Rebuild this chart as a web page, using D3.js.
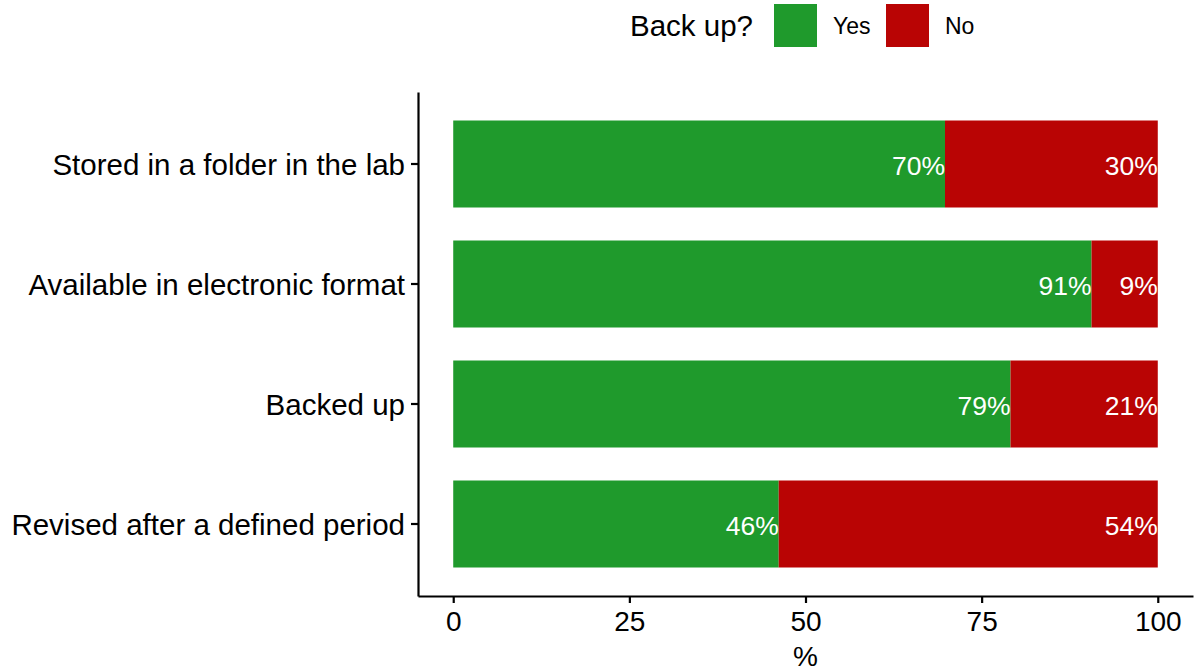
<!DOCTYPE html>
<html>
<head>
<meta charset="utf-8">
<script src="https://cdn.jsdelivr.net/npm/d3@7"></script>
<style>
  body { margin: 0; background: #fff; }
  svg { font-family: "Liberation Sans", Arial, sans-serif; display: block; }
</style>
</head>
<body>
<script>
// categories (top to bottom) and the share of each answer in %
var categories = [
  "Stored in a folder in the lab",
  "Available in electronic format",
  "Backed up",
  "Revised after a defined period"
]
var yesValues = [69.8, 90.6, 79.1, 46.2]
var noValues = [30.2, 9.4, 20.9, 53.8]
var series = ["Yes", "No"]
var xTicks = [0, 25, 50, 75, 100]

var colors = {Yes: "#1f9a2c", No: "#b90404"}

var width = 1196
var height = 671
var panel = {left: 418, right: 1193, top: 92, bottom: 596}

var svg = d3.select("body").append("svg")
    .attr("width", width)
    .attr("height", height)

// rows for the stacked bars
var rows = categories.map((c, i) => ({
  cat: c,
  parts: [
    {key: "Yes", x0: 0, x1: yesValues[i], v: yesValues[i]},
    {key: "No", x0: yesValues[i], x1: yesValues[i] + noValues[i], v: noValues[i]}
  ]
}))

// ggplot style expansion of 5% on both sides
var xScale = d3.scaleLinear().domain([-5, 105]).range([panel.left, panel.right])
var yScale = d3.scaleBand().domain(categories)
    .range([panel.top, panel.bottom])
    .paddingInner(0.275)
    .paddingOuter(0.2375)

var row = svg.selectAll(".row")
  .data(rows)
  .enter().append("g")
  .attr("class", "row")
  .attr("transform", d => `translate(0,${yScale(d.cat)})`)

row.selectAll("rect")
  .data(d => d.parts)
  .enter().append("rect")
  .attr("x", d => xScale(d.x0))
  .attr("y", 0)
  .attr("width", d => xScale(d.x1) - xScale(d.x0))
  .attr("height", yScale.bandwidth())
  .style("fill", d => colors[d.key])

// percentage labels, right aligned at the end of each segment
row.selectAll("text")
  .data(d => d.parts)
  .enter().append("text")
  .attr("x", d => xScale(d.x1))
  .attr("y", yScale.bandwidth() / 2)
  .attr("dy", "0.4em")
  .style("text-anchor", "end")
  .style("fill", "#fff")
  .style("font-size", "26.5px")
  .text(d => Math.round(d.v) + "%")

// x axis
var xAxis = d3.axisBottom(xScale).tickValues(xTicks).tickSize(7).tickSizeOuter(0).tickPadding(8)
var gx = svg.append("g")
   .attr("transform", `translate(0,${panel.bottom})`)
   .call(xAxis)
gx.selectAll("text").style("font-size", "28px").style("fill", "#000")

// y axis
var yAxis = d3.axisLeft(yScale).tickSize(7).tickSizeOuter(0).tickPadding(6)
var gy = svg.append("g")
   .attr("transform", `translate(${panel.left},0)`)
   .call(yAxis)
gy.selectAll("text").style("font-size", "29.5px").style("fill", "#000").attr("dy", "0.36em")

svg.selectAll(".domain, .tick line").style("stroke", "#000").style("stroke-width", 2.2)

// x label
svg.append("text")
    .attr("x", (panel.left + panel.right) / 2)
    .attr("y", 666)
    .style("text-anchor", "middle")
    .style("font-size", "28px")
    .text("%")

// legend on top
var legend = svg.append("g").attr("transform", "translate(630,0)")
legend.append("text")
    .attr("x", 0)
    .attr("y", 36)
    .style("font-size", "29.5px")
    .text("Back up?")

var key = legend.selectAll(".legend")
    .data(series)
    .enter().append("g")
    .attr("class", "legend")
    .attr("transform", (d, i) => `translate(${144 + i * 112},4)`)

key.append("rect")
    .attr("width", 43)
    .attr("height", 43)
    .style("fill", d => colors[d])

key.append("text")
    .attr("x", 59)
    .attr("y", 30)
    .style("font-size", "23px")
    .text(d => d)
</script>
</body>
</html>
